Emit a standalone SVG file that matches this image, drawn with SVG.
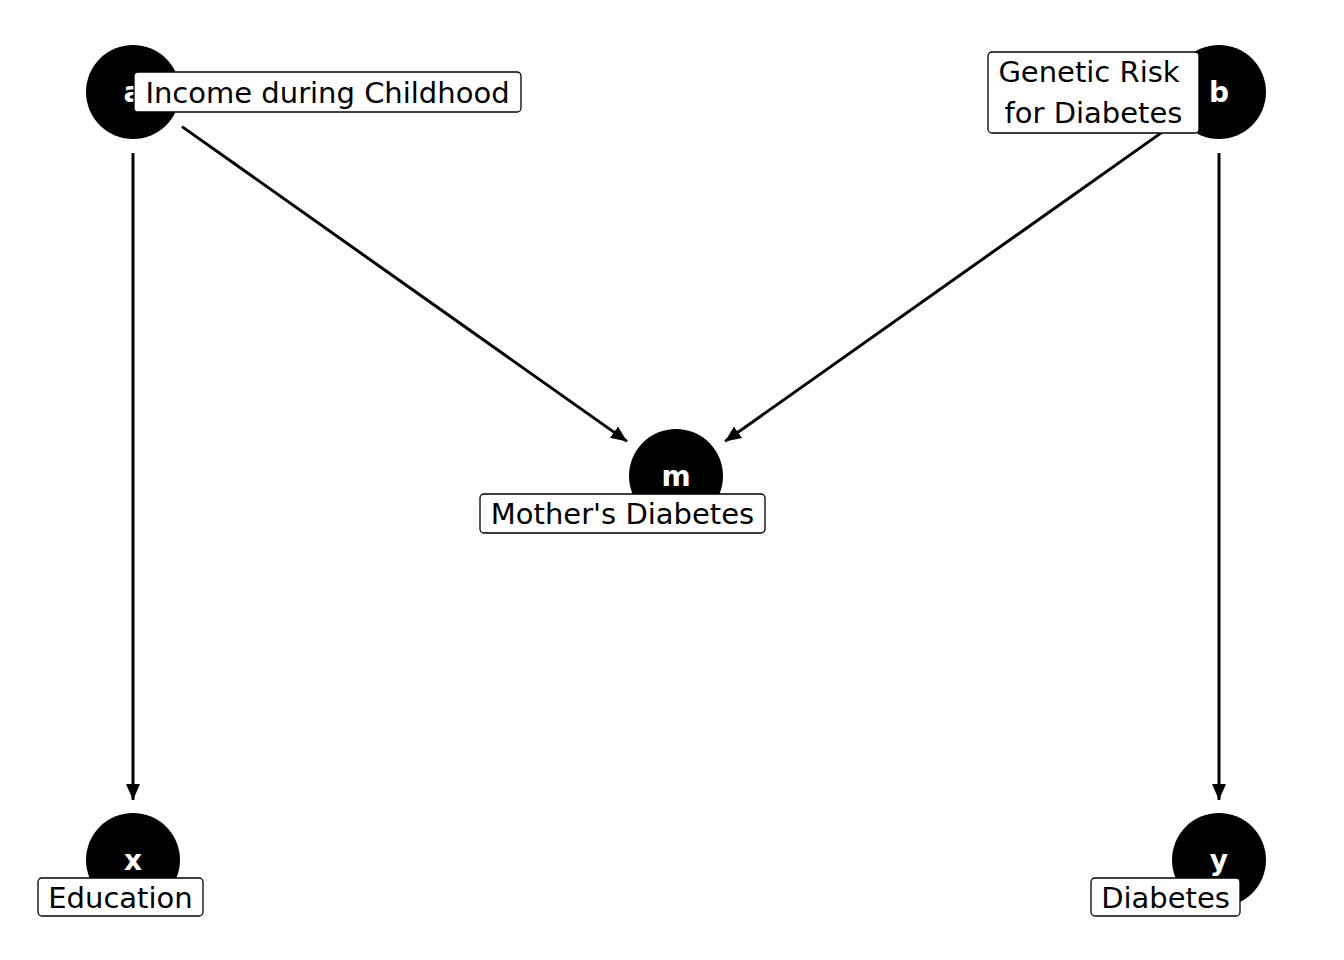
<svg xmlns="http://www.w3.org/2000/svg" width="1344" height="960" viewBox="0 0 1344 960">
<style>
.edge{stroke:#000;stroke-width:3;fill:none}
.node{fill:#000}
.nl{font-family:"DejaVu Sans",sans-serif;font-weight:bold;font-size:28px;fill:#fff;text-anchor:middle}
.box{fill:#fff;stroke:#000;stroke-width:1.3}
.lab{font-family:"DejaVu Sans",sans-serif;font-size:29px;fill:#000;text-anchor:middle}
</style>
<defs>
<marker id="arr" markerUnits="userSpaceOnUse" markerWidth="18" markerHeight="16" refX="16" refY="7" orient="auto">
<path d="M0,0 L16,7 L0,14 z" fill="#000"/>
</marker>
</defs>
<rect width="1344" height="960" fill="#fff"/>
<g id="edges">
<line class="edge" x1="182" y1="126.6" x2="627" y2="441.4" marker-end="url(#arr)"/>
<line class="edge" x1="1170" y1="126.6" x2="725" y2="441.4" marker-end="url(#arr)"/>
<line class="edge" x1="133" y1="153" x2="133" y2="800" marker-end="url(#arr)"/>
<line class="edge" x1="1219" y1="153" x2="1219" y2="800" marker-end="url(#arr)"/>
</g>
<g id="node-a">
<circle class="node" cx="133" cy="92" r="47"/>
<text class="nl" x="133" y="101.5">a</text>
</g>
<g id="node-b">
<circle class="node" cx="1219" cy="92" r="47"/>
<text class="nl" x="1219" y="101.5">b</text>
</g>
<g id="node-m">
<circle class="node" cx="676" cy="476" r="47"/>
<text class="nl" x="676" y="485.5">m</text>
</g>
<g id="node-x">
<circle class="node" cx="133" cy="860" r="47"/>
<text class="nl" x="133" y="869.5">x</text>
</g>
<g id="node-y">
<circle class="node" cx="1219" cy="860" r="47"/>
<text class="nl" x="1219" y="869.5">y</text>
</g>
<g id="label-a">
<rect class="box" x="134" y="72" width="387" height="40" rx="4"/>
<text class="lab" x="327.5" y="103">Income during Childhood</text>
</g>
<g id="label-b">
<rect class="box" x="988" y="52" width="211" height="81" rx="4"/>
<text class="lab" x="1089" y="82">Genetic Risk</text>
<text class="lab" x="1093.5" y="123">for Diabetes</text>
</g>
<g id="label-m">
<rect class="box" x="480" y="494" width="285" height="39" rx="4"/>
<text class="lab" x="622.5" y="524">Mother's Diabetes</text>
</g>
<g id="label-x">
<rect class="box" x="38" y="878" width="165" height="38" rx="4"/>
<text class="lab" x="120.5" y="908">Education</text>
</g>
<g id="label-y">
<rect class="box" x="1091" y="878" width="149" height="38" rx="4"/>
<text class="lab" x="1165.5" y="908">Diabetes</text>
</g>
</svg>
